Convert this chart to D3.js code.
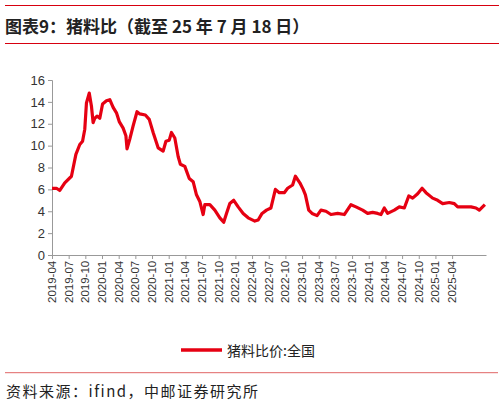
<!DOCTYPE html>
<html><head><meta charset="utf-8">
<script src="https://cdn.jsdelivr.net/npm/d3@7"></script>
<style>body{margin:0;background:#fff;font-family:"Noto Sans CJK SC","Liberation Sans",sans-serif}</style>
</head><body><svg id="c" width="504" height="407"></svg>
<script>
const monthIdx=[0,0.8,1.4,2.3,3.5,4.3,5,5.5,5.9,6.2,6.7,7.1,7.4,7.7,8.1,8.6,9.1,9.8,10.4,11,11.6,12.1,12.8,13.3,13.5,14,14.6,15.3,15.8,16.8,17.5,18.2,19.1,20,20.5,21.1,21.5,22.1,22.7,23.1,23.9,24.7,25.4,26,26.6,27.2,27.5,28.4,29.3,30.2,30.9,31.4,32,32.7,33.5,34.4,35.3,36.5,37.1,37.8,38.6,39.4,40.2,40.9,41.8,42.4,43.3,43.8,44.6,45.2,45.6,46.2,46.8,47.7,48.4,49.3,50.2,51.4,52.6,53.8,54.7,55.9,56.8,57.7,58.6,59.2,59.8,60.4,61.6,62.5,63.4,64.2,64.9,65.8,66.6,67.3,68.5,69.4,70.3,71.5,72.4,73,74.2,75.4,76.3,76.9,77.9];
const ratio=[6.1,6.1,5.9,6.6,7.2,9.2,10.1,10.4,11.5,13.9,14.8,13.6,12.1,12.5,12.7,12.5,13.8,14.1,14.2,13.5,13.0,12.2,11.6,10.9,9.7,10.6,11.8,13.1,12.9,12.8,12.4,11.2,9.8,9.5,10.4,10.5,11.2,10.7,9.0,8.3,8.1,7.0,6.7,5.5,4.9,3.7,4.6,4.6,4.1,3.4,3.0,3.8,4.7,5.0,4.4,3.8,3.4,3.1,3.2,3.8,4.1,4.3,6.0,5.7,5.7,6.1,6.4,7.2,6.6,6.0,5.5,4.1,3.8,3.6,4.1,4.0,3.7,3.8,3.7,4.6,4.4,4.1,3.8,3.9,3.8,3.7,4.3,3.8,4.1,4.4,4.3,5.4,5.2,5.6,6.1,5.7,5.2,5.0,4.7,4.8,4.7,4.4,4.4,4.4,4.3,4.1,4.6];
const tickLabels=["2019-04","2019-07","2019-10","2020-01","2020-04","2020-07","2020-10","2021-01","2021-04","2021-07","2021-10","2022-01","2022-04","2022-07","2022-10","2023-01","2023-04","2023-07","2023-10","2024-01","2024-04","2024-07","2024-10","2025-01","2025-04"];
const yTicks=[0,2,4,6,8,10,12,14,16];
const svg=d3.select("#c");
const x=d3.scaleLinear().domain([0,78.1]).range([52,486]);
const y=d3.scaleLinear().domain([0,16]).range([255,80]);
svg.append("line").attr("x1",5).attr("x2",499).attr("y1",5.5).attr("y2",5.5).attr("stroke","#d7000f").attr("stroke-width",1);
svg.append("line").attr("x1",5).attr("x2",499).attr("y1",43.5).attr("y2",43.5).attr("stroke","#d7000f").attr("stroke-width",1);
svg.append("text").attr("x",5).attr("y",33).attr("font-size",17).attr("font-weight","bold").attr("fill","#222").text("图表9：猪料比（截至 25 年 7 月 18 日）");
svg.append("g").attr("transform","translate(52,0)").call(d3.axisLeft(y).tickValues(yTicks).tickSize(4).tickFormat(d3.format("d")))
 .call(g=>{g.selectAll("path,line").attr("stroke","#999");g.selectAll("text").attr("font-size",13).attr("fill","#333").attr("font-family","Liberation Sans")});
svg.append("g").attr("transform","translate(0,255)").call(d3.axisBottom(x).tickValues(tickLabels.map((d,i)=>i*3)).tickSize(4).tickSizeOuter(0).tickFormat((d,i)=>tickLabels[i]))
 .call(g=>{g.selectAll("path,line").attr("stroke","#999");g.selectAll("text").attr("font-size",11.5).attr("fill","#333").attr("font-family","Liberation Sans")
 .attr("transform","rotate(-90)").attr("text-anchor","end").attr("dx","-0.5em").attr("dy","-0.3em")});
svg.append("path").datum(monthIdx.map((m,i)=>[m,ratio[i]])).attr("fill","none").attr("stroke","#e60012").attr("stroke-width",3.2).attr("stroke-linejoin","round")
 .attr("d",d3.line().x(d=>x(d[0])).y(d=>y(d[1])));
svg.append("line").attr("x1",181).attr("x2",222).attr("y1",350).attr("y2",350).attr("stroke","#e60012").attr("stroke-width",3.5);
svg.append("text").attr("x",227).attr("y",356).attr("font-size",14).attr("fill","#222").text("猪料比价:全国");
svg.append("line").attr("x1",5).attr("x2",498).attr("y1",372.7).attr("y2",372.7).attr("stroke","#e06666").attr("stroke-width",1);
svg.append("text").attr("x",6).attr("y",397).attr("font-size",15).attr("letter-spacing",1.5).attr("fill","#222").text("资料来源：ifind，中邮证券研究所");
</script></body></html>
